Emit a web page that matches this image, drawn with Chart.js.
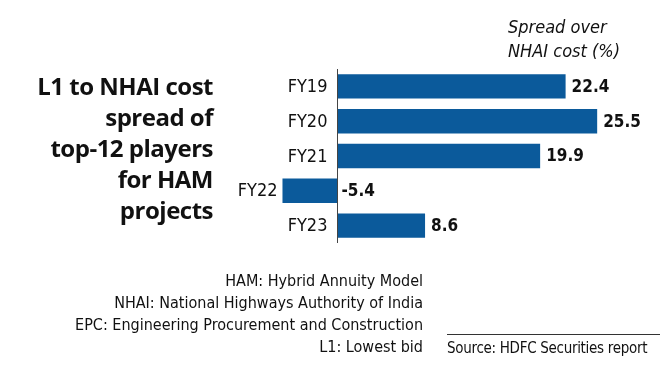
<!DOCTYPE html>
<html>
<head>
<meta charset="utf-8">
<script src="https://cdn.jsdelivr.net/npm/chart.js@4"></script>
<style>
  body { margin: 0; background: #fff; }
  #wrap { position: relative; width: 660px; height: 386px; overflow: hidden; }
  #grafico { position: absolute; left: 0; top: 0; }
  .txt { position: absolute; color: #111; white-space: nowrap; }
  #titulo { right: 447px; top: 70px; text-align: right; font: bold 24px 'Open Sans', sans-serif; line-height: 31px; letter-spacing: -0.5px; }
  #ejeTitulo { left: 508px; top: 15px; font: italic 18px 'DejaVu Sans Condensed', sans-serif; line-height: 24px; }
  #notas { right: 237px; top: 270px; text-align: right; font: 16px 'DejaVu Sans Condensed', sans-serif; line-height: 22px; }
  #fuente { left: 447px; top: 337px; font: 15px 'DejaVu Sans Condensed', sans-serif; line-height: 22px; letter-spacing: -0.3px; }
  #linea { position: absolute; left: 447px; top: 334px; width: 213px; height: 1px; background: #333; }
</style>
</head>
<body>
<div id="wrap">
  <canvas id="grafico" width="660" height="386"></canvas>
  <div class="txt" id="titulo">L1 to NHAI cost<br>spread of<br>top-12 players<br>for HAM<br>projects</div>
  <div class="txt" id="ejeTitulo">Spread over<br>NHAI cost (%)</div>
  <div class="txt" id="notas">HAM: Hybrid Annuity Model<br>NHAI: National Highways Authority of India<br>EPC: Engineering Procurement and Construction<br>L1: Lowest bid</div>
  <div id="linea"></div>
  <div class="txt" id="fuente">Source: HDFC Securities report</div>
</div>
<script>
// datos del gráfico
const anios = ['FY19', 'FY20', 'FY21', 'FY22', 'FY23'];
const spread = [22.4, 25.5, 19.9, -5.4, 8.6];
const ejeMin = -8;
const ejeMax = 30;

const colorBarra = '#0b5a9b';
const fuenteEtiq = "18px 'DejaVu Sans Condensed', sans-serif";
const fuenteValor = "bold 17px 'DejaVu Sans Condensed', sans-serif";

// Plugin para dibujar la línea del cero, las etiquetas y los valores
const etiquetasPlugin = {
    id: 'etiquetas',
    afterDatasetsDraw(chart) {
        const ctx = chart.ctx;
        const x = chart.scales.x;
        const area = chart.chartArea;
        const cero = x.getPixelForValue(0);

        ctx.save();
        ctx.strokeStyle = '#444';
        ctx.lineWidth = 1;
        ctx.beginPath();
        ctx.moveTo(Math.round(cero) + 0.5, area.top);
        ctx.lineTo(Math.round(cero) + 0.5, area.bottom);
        ctx.stroke();

        ctx.fillStyle = '#111';
        ctx.textBaseline = 'middle';
        chart.getDatasetMeta(0).data.forEach((barra, i) => {
            const valor = spread[i];
            const fin = x.getPixelForValue(valor);
            // etiqueta de categoría
            ctx.font = fuenteEtiq;
            ctx.textAlign = 'right';
            const xEtiq = valor < 0 ? fin - 5 : cero - 10;
            ctx.fillText(anios[i], xEtiq, barra.y + 1);
            // valor
            ctx.font = fuenteValor;
            ctx.textAlign = 'left';
            const xValor = valor < 0 ? cero + 4 : fin + 6;
            ctx.fillText(valor.toFixed(1), xValor, barra.y + 1);
        });
        ctx.restore();
    }
};

const ctx = document.getElementById('grafico').getContext('2d');
new Chart(ctx, {
    type: 'bar',
    data: {
        labels: anios,
        datasets: [{
            data: spread,
            backgroundColor: colorBarra,
            borderWidth: 0,
            barPercentage: 0.7,
            categoryPercentage: 1
        }]
    },
    options: {
        indexAxis: 'y',
        responsive: false,
        animation: false,
        layout: { padding: { left: 256, right: 17, top: 69, bottom: 143 } },
        plugins: { legend: { display: false }, tooltip: { enabled: false } },
        scales: {
            x: { display: false, min: ejeMin, max: ejeMax },
            y: { display: false }
        }
    },
    plugins: [etiquetasPlugin]
});
</script>
</body>
</html>
